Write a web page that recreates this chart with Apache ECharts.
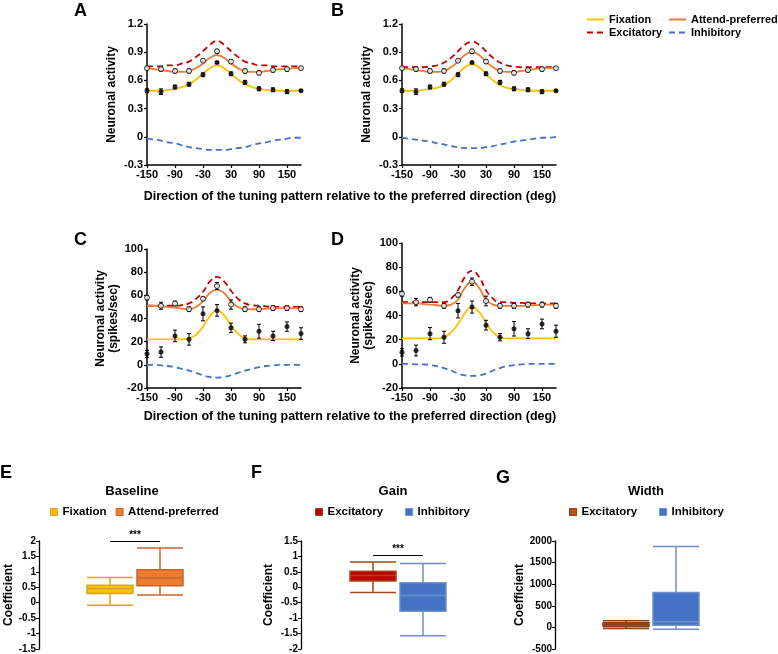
<!DOCTYPE html>
<html>
<head>
<meta charset="utf-8">
<script src="https://cdn.jsdelivr.net/npm/echarts@6/dist/echarts.min.js"></script>
<style>
  html, body { margin: 0; padding: 0; background: #fff; }
  #chart { width: 778px; height: 654px; }
</style>
</head>
<body>
<div id="chart"></div>
<script>
const FONT = "'Liberation Sans', Arial, sans-serif";

const curveDirs = [-150, -135, -120, -105, -90, -75, -60, -45, -30, -15, 0, 15, 30, 45, 60, 75, 90, 105, 120, 135, 150, 165, 180];
// directions of the recorded points
const pointDirs = [-150, -120, -90, -60, -30, 0, 30, 60, 90, 120, 150, 180];
const tickDirs = [-150, -90, -30, 30, 90, 150];

// panel A fits
const aFixation = [0.49, 0.49, 0.49, 0.50, 0.51, 0.53, 0.56, 0.61, 0.67, 0.73, 0.76, 0.73, 0.67, 0.61, 0.56, 0.53, 0.51, 0.50, 0.49, 0.49, 0.49, 0.49, 0.49];
const aAttend = [0.73, 0.72, 0.71, 0.70, 0.69, 0.69, 0.70, 0.73, 0.78, 0.84, 0.87, 0.84, 0.78, 0.73, 0.70, 0.69, 0.69, 0.70, 0.71, 0.72, 0.72, 0.73, 0.73];
const aExcit = [0.75, 0.75, 0.75, 0.76, 0.76, 0.78, 0.80, 0.85, 0.91, 0.98, 1.02, 0.98, 0.91, 0.85, 0.80, 0.78, 0.76, 0.76, 0.75, 0.75, 0.75, 0.75, 0.75];
const aInhib = [-0.02, -0.03, -0.04, -0.06, -0.07, -0.09, -0.11, -0.12, -0.13, -0.14, -0.14, -0.14, -0.13, -0.12, -0.11, -0.09, -0.07, -0.06, -0.04, -0.03, -0.02, -0.01, -0.01];

// panel B fits
const bFixation = [0.49, 0.49, 0.49, 0.50, 0.51, 0.52, 0.55, 0.60, 0.67, 0.74, 0.77, 0.74, 0.67, 0.60, 0.55, 0.52, 0.51, 0.50, 0.49, 0.49, 0.49, 0.49, 0.49];
const bAttend = [0.73, 0.72, 0.71, 0.70, 0.69, 0.69, 0.70, 0.74, 0.80, 0.87, 0.90, 0.87, 0.80, 0.74, 0.70, 0.69, 0.69, 0.70, 0.71, 0.72, 0.73, 0.73, 0.74];
const bExcit = [0.74, 0.74, 0.74, 0.74, 0.75, 0.76, 0.79, 0.84, 0.91, 0.98, 1.01, 0.98, 0.91, 0.84, 0.79, 0.76, 0.75, 0.74, 0.74, 0.74, 0.74, 0.74, 0.74];
const bInhib = [-0.01, -0.02, -0.03, -0.04, -0.05, -0.07, -0.08, -0.10, -0.11, -0.12, -0.12, -0.12, -0.11, -0.10, -0.08, -0.07, -0.05, -0.04, -0.03, -0.02, -0.01, -0.01, 0];

// panel C fits
const cFixation = [22, 22, 22, 22, 22, 22, 23, 26, 33, 42, 47, 43, 34, 27, 23, 22, 22, 22, 22, 22, 22, 22, 22];
const cAttend = [51, 51, 50.5, 50, 49.5, 48.5, 48, 50, 55, 62, 65, 62, 55, 50, 48, 48, 48, 48.5, 49, 49, 49, 49, 49];
const cExcit = [51, 51, 51, 51, 51, 51.5, 53, 57, 63, 72, 76, 72, 64, 57, 53, 51.5, 51, 50.5, 50, 50, 50, 50, 50];
const cInhib = [0, 0, -0.5, -1, -2, -3.5, -5, -7, -9, -10.5, -11, -10.5, -9, -7, -5, -3.5, -2, -1, -0.5, 0, 0, 0, 0];

// panel D fits
const dFixation = [21, 21, 21, 21, 21, 21, 22, 26, 33, 42, 47, 43, 34, 26, 22, 21, 21, 21, 21, 21, 21, 21, 21];
const dAttend = [50, 50, 50, 49.5, 49, 48.5, 48, 49, 53, 63, 68, 63, 53, 49, 48, 48, 48, 48, 48.5, 48.5, 49, 49, 49];
const dExcit = [51, 51, 51, 51, 51, 51, 51, 54, 61, 72, 77, 72, 61, 54, 51, 51, 50.5, 50.5, 50, 50, 50, 50, 50];
const dInhib = [0, 0, -0.5, -0.5, -1, -2, -3.5, -5.5, -8, -9.5, -10, -9.5, -8, -5.5, -3.5, -2, -1, -0.5, 0, 0, 0, 0, 0];

// recorded means and errors, normalised (A, B)
const normFixation = [0.49, 0.48, 0.53, 0.56, 0.66, 0.79, 0.67, 0.58, 0.51, 0.50, 0.48, 0.49];
const normFixationErr = [0.02, 0.03, 0.02, 0.02, 0.02, 0.01, 0.02, 0.02, 0.02, 0.02, 0.02, 0.01];
const normAttend = [0.73, 0.72, 0.70, 0.70, 0.81, 0.91, 0.80, 0.70, 0.68, 0.71, 0.72, 0.73];
const normAttendErr = [0.01, 0.02, 0.02, 0.02, 0.01, 0.02, 0.02, 0.02, 0.02, 0.02, 0.02, 0.01];

// recorded means and errors, spikes/sec (C, D)
const rateFixation = [9.5, 11, 25, 22, 44, 47, 32, 22, 29, 25, 33, 27];
const rateFixationErr = [3, 4.5, 5, 5, 6, 5, 4, 3, 6, 4, 4, 5];
const rateAttend = [58, 51, 53, 48, 57, 68, 52, 48, 48, 49, 49, 48];
const rateAttendErr = [2, 3, 2, 2, 1.5, 3, 4, 2, 2, 2, 2, 2];

// box plots: [min, Q1, median, Q3, max]
const baselineCats = ['Fixation', 'Attend-preferred'];
const baselineBoxes = [[-0.08, 0.30, 0.45, 0.57, 0.82], [0.25, 0.55, 0.80, 1.07, 1.77]];
const gainCats = ['Excitatory', 'Inhibitory'];
const gainBoxes = [[-0.17, 0.20, 0.38, 0.52, 0.82], [-1.57, -0.78, -0.27, 0.15, 0.77]];
const widthCats = ['Excitatory', 'Inhibitory'];
const widthBoxes = [[-25, 20, 65, 105, 155], [-45, 52, 130, 810, 1870]];
const sigLevels = [2, 1.05, 2050];

const COL = {
  fix: '#FFC000', att: '#ED7D31', exc: '#C00000', inh: '#4472C4'
};

const chart = echarts.init(document.getElementById('chart'));

const boldText = (size) => ({ color: '#000', fontWeight: 'bold', fontSize: size, fontFamily: FONT });

function pairs(xs, ys) { return xs.map((x, i) => [x, ys[i]]); }
function triples(xs, ys, es) { return xs.map((x, i) => [x, ys[i], es[i]]); }

function renderErr(params, api) {
  const x = api.value(0), m = api.value(1), e = api.value(2);
  const hi = api.coord([x, m + e]);
  const lo = api.coord([x, m - e]);
  const c = 2;
  const st = { stroke: '#000', lineWidth: 1 };
  return {
    type: 'group',
    children: [
      { type: 'line', shape: { x1: hi[0], y1: hi[1], x2: lo[0], y2: lo[1] }, style: st },
      { type: 'line', shape: { x1: hi[0] - c, y1: hi[1], x2: hi[0] + c, y2: hi[1] }, style: st },
      { type: 'line', shape: { x1: lo[0] - c, y1: lo[1], x2: lo[0] + c, y2: lo[1] }, style: st }
    ]
  };
}

const grids = [
  { left: 147, right: 477, top: 24, bottom: 489 },   // A
  { left: 402, right: 222, top: 24, bottom: 489 },   // B
  { left: 147, right: 477, top: 249, bottom: 266 },  // C
  { left: 402, right: 222, top: 243, bottom: 266 },  // D
  { left: 85, right: 593, top: 541, bottom: 3 },     // E
  { left: 348, right: 330, top: 541, bottom: 3 },    // F
  { left: 601, right: 77, top: 541, bottom: 3 }      // G
];

const axisLine = { show: true, onZero: false, lineStyle: { color: '#000', width: 1.5 } };
const axisTick = { show: true, length: 3, lineStyle: { color: '#000', width: 1.2 } };

const xAxes = [];
const yAxes = [];
for (let g = 0; g < 4; g++) {
  xAxes.push({
    type: 'value', gridIndex: g, min: -150, max: 180,
    axisLine: axisLine,
    axisTick: Object.assign({ customValues: tickDirs }, axisTick),
    axisLabel: Object.assign({ customValues: tickDirs, margin: 4 }, boldText(11)),
    splitLine: { show: false }
  });
  const norm = g < 2;
  yAxes.push({
    type: 'value', gridIndex: g,
    min: norm ? -0.3 : -20, max: norm ? 1.2 : 100, interval: norm ? 0.3 : 20,
    name: norm ? 'Neuronal activity' : 'Neuronal activity\n(spikes/sec)',
    nameLocation: 'middle', nameGap: norm ? 29 : 27,
    nameTextStyle: Object.assign({ lineHeight: 13 }, boldText(12)),
    axisLine: axisLine, axisTick: axisTick,
    axisLabel: Object.assign({ margin: 4 }, boldText(11)),
    splitLine: { show: false }
  });
}
const boxCats = [baselineCats, gainCats, widthCats];
const boxY = [
  { min: -1.5, max: 2, interval: 0.5, offset: 46, gap: 23 },
  { min: -2, max: 1.5, interval: 0.5, offset: 47, gap: 26 },
  { min: -500, max: 2000, interval: 500, offset: 46, gap: 29 }
];
for (let p = 0; p < 3; p++) {
  const g = 4 + p;
  for (let k = 0; k < 2; k++) {
    xAxes.push({ type: 'category', gridIndex: g, data: boxCats[p], show: false });
  }
  yAxes.push({
    type: 'value', gridIndex: g, min: boxY[p].min, max: boxY[p].max, interval: boxY[p].interval,
    offset: boxY[p].offset,
    name: 'Coefficient', nameLocation: 'middle', nameGap: boxY[p].gap,
    nameTextStyle: boldText(12),
    axisLine: { show: true, onZero: false, lineStyle: { color: '#000', width: 1.3 } },
    axisTick: { show: true, length: 3, lineStyle: { color: '#000', width: 1 } },
    axisLabel: Object.assign({ margin: 3, formatter: (v) => String(v) }, boldText(10)),
    splitLine: { show: false }
  });
}

const series = [];
const fits = [
  [aFixation, aAttend, aExcit, aInhib],
  [bFixation, bAttend, bExcit, bInhib],
  [cFixation, cAttend, cExcit, cInhib],
  [dFixation, dAttend, dExcit, dInhib]
];
const fitNames = ['Fixation', 'Attend-preferred', 'Excitatory', 'Inhibitory'];
const fitColors = [COL.fix, COL.att, COL.exc, COL.inh];
for (let g = 0; g < 4; g++) {
  for (let k = 0; k < 4; k++) {
    series.push({
      type: 'line', name: fitNames[k], xAxisIndex: g, yAxisIndex: g,
      data: pairs(curveDirs, fits[g][k]),
      smooth: true, symbol: 'none', z: k < 2 ? 3 : 2,
      itemStyle: { color: fitColors[k] },
      lineStyle: { color: fitColors[k], width: 1.8, type: k < 2 ? 'solid' : [6, 4] }
    });
  }
  const norm = g < 2;
  const fm = norm ? normFixation : rateFixation;
  const fe = norm ? normFixationErr : rateFixationErr;
  const am = norm ? normAttend : rateAttend;
  const ae = norm ? normAttendErr : rateAttendErr;
  series.push({
    type: 'custom', name: 'Fixation error', xAxisIndex: g, yAxisIndex: g,
    renderItem: renderErr, data: triples(pointDirs, fm, fe), z: 4, silent: true
  });
  series.push({
    type: 'custom', name: 'Attend error', xAxisIndex: g, yAxisIndex: g,
    renderItem: renderErr, data: triples(pointDirs, am, ae), z: 4, silent: true
  });
  series.push({
    type: 'scatter', name: 'Attend-preferred data', xAxisIndex: g, yAxisIndex: g,
    data: pairs(pointDirs, am), symbolSize: 5, z: 5,
    itemStyle: { color: '#fff', borderColor: '#000', borderWidth: 1 }
  });
  series.push({
    type: 'scatter', name: 'Fixation data', xAxisIndex: g, yAxisIndex: g,
    data: pairs(pointDirs, fm), symbolSize: 5, z: 5,
    itemStyle: { color: '#000' }
  });
}

const boxSets = [baselineBoxes, gainBoxes, widthBoxes];
const boxFill = [['#FFC000', '#ED7D31'], ['#C00000', '#4472C4'], ['#B4531A', '#4472C4']];
const boxEdge = [['#D4A52A', '#C8642A'], ['#A3461E', '#6E8FC9'], ['#8E3F12', '#6E8FC9']];
const panelTags = ['E', 'F', 'G'];
for (let p = 0; p < 3; p++) {
  for (let k = 0; k < 2; k++) {
    const s = {
      type: 'boxplot', name: panelTags[p] + ': ' + boxCats[p][k],
      xAxisIndex: 4 + p * 2 + k, yAxisIndex: 4 + p,
      data: [[boxCats[p][k]].concat(boxSets[p][k])],
      encode: { x: 0, y: [1, 2, 3, 4, 5] },
      boxWidth: [46, 46],
      itemStyle: { color: boxFill[p][k], borderColor: boxEdge[p][k], borderWidth: 1.5 }
    };
    if (k === 0) {
      s.markLine = {
        silent: true, symbol: ['none', 'none'],
        lineStyle: { color: '#000', width: 1.2, type: 'solid' },
        label: Object.assign({ formatter: '***', position: 'middle', distance: 1 }, boldText(10)),
        data: [[{ coord: [0, sigLevels[p]] }, { coord: [1, sigLevels[p]] }]]
      };
    }
    series.push(s);
  }
}

const xTitle = 'Direction of the tuning pattern relative to the preferred direction (deg)';
const titles = [
  ['A', 74, 2, 18], ['B', 331, 2, 18], ['C', 74, 231, 18], ['D', 331, 231, 18],
  ['E', 0, 464, 18], ['F', 251, 464, 18], ['G', 496, 469, 18]
].map(t => ({ text: t[0], left: t[1], top: t[2], padding: 0, textStyle: boldText(t[3]) }));
titles.push({ text: xTitle, left: 350, top: 190, padding: 0, textAlign: 'center', textStyle: boldText(12.5) });
titles.push({ text: xTitle, left: 350, top: 410, padding: 0, textAlign: 'center', textStyle: boldText(12.5) });
[['Baseline', 132], ['Gain', 393], ['Width', 646]].forEach(t => {
  titles.push({ text: t[0], left: t[1], top: 485, padding: 0, textAlign: 'center', textStyle: boldText(13) });
});

const stripTag = (n) => n.slice(3);
const boxLegendItems = (p) => [0, 1].map(k => ({
  name: panelTags[p] + ': ' + boxCats[p][k],
  itemStyle: { color: boxFill[p][k], borderColor: boxEdge[p][k], borderWidth: 1 }
}));
const topLegend = {
  orient: 'vertical', top: 14, itemWidth: 17, itemHeight: 10, itemGap: 2, padding: 0,
  itemStyle: { opacity: 0 }, textStyle: boldText(11), selectedMode: false
};
const legends = [
  Object.assign({ data: ['Fixation', 'Excitatory'], left: 586 }, topLegend),
  Object.assign({ data: ['Attend-preferred', 'Inhibitory'], left: 668 }, topLegend),
  { data: boxLegendItems(0), formatter: stripTag, left: 50, top: 506, itemGap: 9 },
  { data: boxLegendItems(1), formatter: stripTag, left: 315, top: 506, itemGap: 22 },
  { data: boxLegendItems(2), formatter: stripTag, left: 569, top: 506, itemGap: 22 }
];
for (let i = 2; i < 5; i++) {
  Object.assign(legends[i], { icon: 'rect', itemWidth: 7, itemHeight: 7, padding: 0, textStyle: boldText(11.5), selectedMode: false });
}

chart.setOption({
  animation: false,
  backgroundColor: '#fff',
  textStyle: { fontFamily: FONT },
  title: titles,
  legend: legends,
  grid: grids,
  xAxis: xAxes,
  yAxis: yAxes,
  series: series
});
</script>
</body>
</html>
